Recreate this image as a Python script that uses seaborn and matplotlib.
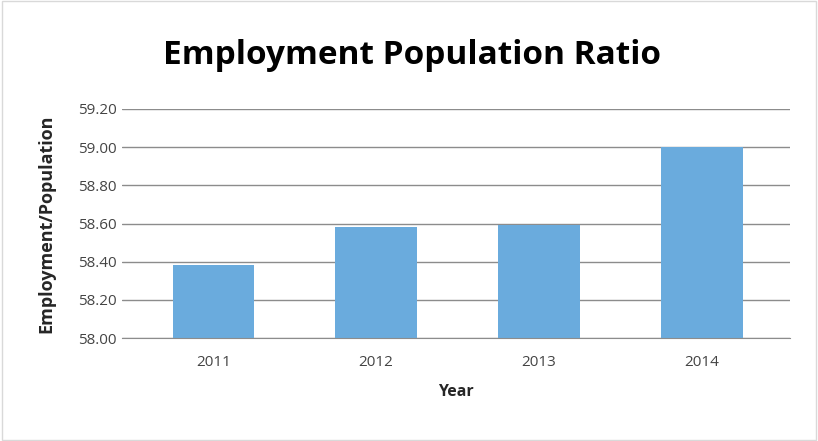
import matplotlib
matplotlib.use("Agg")
import matplotlib.pyplot as plt
import seaborn as sns
import pandas as pd

years = ["2011", "2012", "2013", "2014"]
ratio = [58.38, 58.58, 58.59, 59.00]

df = pd.DataFrame({"Year": years, "Ratio": ratio})

sns.set_style("white")
plt.rcParams["font.family"] = ["Open Sans", "DejaVu Sans"]

fig = plt.figure(figsize=(8.18, 4.41), dpi=100)
ax = fig.add_axes([122 / 818, 1 - 338 / 441, 668 / 818, 229 / 441])

sns.barplot(data=df, x="Year", y="Ratio", color="#6AABDD", saturation=1, width=0.5,
            edgecolor="none", linewidth=0, ax=ax)

ax.set_xlim(-0.56, 3.54)
ax.set_ylim(58.0, 59.2)
ax.set_yticks([58.0 + 0.2 * i for i in range(7)])
ax.set_yticklabels([f"{58.0 + 0.2 * i:.2f}" for i in range(7)], fontsize=11, color="#444444")
ax.tick_params(axis="x", labelsize=11, colors="#444444", length=0, pad=12)
ax.tick_params(axis="y", length=0, pad=4)
ax.yaxis.grid(True, color="#8c8c8c", linewidth=1)
ax.set_axisbelow(True)
for s in ["top", "right", "left"]:
    ax.spines[s].set_visible(False)
ax.spines["bottom"].set_color("#8c8c8c")

ax.set_xlabel("Year", fontsize=11.5, fontweight="bold", labelpad=10)
ax.set_ylabel("Employment/Population", fontsize=13, fontweight="bold", labelpad=16)
fig.text(412 / 818, 1 - 56 / 441, "Employment Population Ratio", ha="center", va="center",
         fontsize=24, fontweight="bold", color="black")

fig.patches.append(plt.Rectangle((0.003, 0.003), 0.994, 0.994, transform=fig.transFigure,
                                 fill=False, edgecolor="#d9d9d9", linewidth=1))

fig.savefig("out.png", dpi=100)
